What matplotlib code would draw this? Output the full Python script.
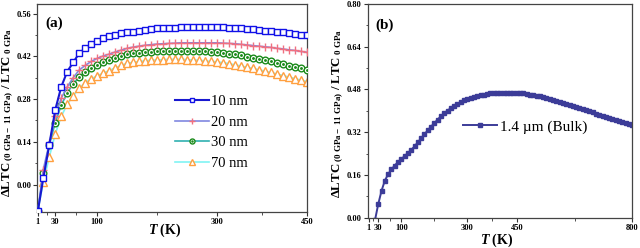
import matplotlib
matplotlib.use("Agg")
import matplotlib.pyplot as plt
import numpy as np
from matplotlib.path import Path
from matplotlib.ticker import FixedLocator

plt.rcParams['font.family'] = ['Liberation Serif', 'DejaVu Serif']
plt.rcParams['mathtext.fontset'] = 'custom'
plt.rcParams['mathtext.rm'] = 'Liberation Serif'
plt.rcParams['mathtext.it'] = 'Liberation Serif:italic:bold'
plt.rcParams['mathtext.bf'] = 'Liberation Serif:bold'

# ---------------- data ----------------
T_a = [1, 10, 20, 30, 40, 50, 60, 70, 80, 90, 100, 110, 120, 130, 140, 150, 160, 170, 180, 190,
       200, 210, 220, 230, 240, 250, 260, 270, 280, 290, 300, 310, 320, 330, 340, 350, 360, 370,
       380, 390, 400, 410, 420, 430, 440, 450]
nm10 = [-0.085, 0.02, 0.13, 0.245, 0.32, 0.37, 0.40, 0.43, 0.446, 0.46, 0.471, 0.48, 0.486, 0.49,
        0.495, 0.498, 0.50, 0.503, 0.506, 0.509, 0.511, 0.512, 0.513, 0.514, 0.515, 0.516, 0.516,
        0.516, 0.516, 0.516, 0.515, 0.515, 0.514, 0.513, 0.511, 0.509, 0.508, 0.506, 0.504, 0.502,
        0.500, 0.498, 0.496, 0.494, 0.491, 0.489]
nm20 = [-0.085, 0.049, 0.135, 0.223, 0.283, 0.32, 0.35, 0.375, 0.39, 0.403, 0.413, 0.421, 0.427,
        0.434, 0.440, 0.446, 0.450, 0.453, 0.456, 0.458, 0.460, 0.461, 0.462, 0.463, 0.464, 0.464,
        0.464, 0.464, 0.464, 0.464, 0.464, 0.463, 0.462, 0.461, 0.459, 0.457, 0.455, 0.453, 0.451,
        0.449, 0.446, 0.444, 0.441, 0.439, 0.436, 0.433]
nm30 = [-0.085, 0.038, 0.13, 0.203, 0.26, 0.30, 0.33, 0.351, 0.37, 0.381, 0.39, 0.400, 0.408,
        0.415, 0.421, 0.427, 0.430, 0.432, 0.434, 0.435, 0.436, 0.437, 0.438, 0.438, 0.438, 0.438,
        0.437, 0.437, 0.436, 0.435, 0.434, 0.432, 0.429, 0.426, 0.423, 0.419, 0.415, 0.411, 0.407,
        0.403, 0.399, 0.394, 0.389, 0.385, 0.380, 0.375]
nm70 = [-0.085, 0.008, 0.09, 0.166, 0.223, 0.263, 0.291, 0.315, 0.334, 0.346, 0.356, 0.365, 0.373,
        0.382, 0.390, 0.397, 0.400, 0.403, 0.405, 0.407, 0.408, 0.409, 0.410, 0.410, 0.410, 0.409,
        0.408, 0.407, 0.405, 0.403, 0.402, 0.399, 0.396, 0.392, 0.388, 0.384, 0.380, 0.376, 0.371,
        0.367, 0.362, 0.357, 0.352, 0.347, 0.342, 0.337]

T_b = [1, 10, 20, 30, 40, 50, 60, 70, 80, 90, 100, 110, 120, 130, 140, 150, 160, 170, 180, 190,
       200, 210, 220, 230, 240, 250, 260, 270, 280, 290, 300, 310, 320, 330, 340, 350, 360, 370,
       380, 390, 400, 410, 420, 430, 440, 450, 460, 470, 480, 490, 500, 510, 520, 530, 540, 550,
       560, 570, 580, 590, 600, 610, 620, 630, 640, 650, 660, 670, 680, 690, 700, 710, 720, 730,
       740, 750, 760, 770, 780, 790, 800]
bulk = [-0.2, -0.06, -0.01, 0.051, 0.101, 0.139, 0.163, 0.181, 0.195, 0.209, 0.219, 0.231, 0.242,
        0.254, 0.267, 0.282, 0.297, 0.312, 0.327, 0.341, 0.354, 0.367, 0.380, 0.391, 0.401, 0.410,
        0.418, 0.426, 0.433, 0.440, 0.445, 0.449, 0.453, 0.456, 0.459, 0.461, 0.463, 0.465, 0.466,
        0.467, 0.468, 0.468, 0.468, 0.468, 0.468, 0.467, 0.466, 0.465, 0.463, 0.461, 0.459, 0.457,
        0.454, 0.451, 0.448, 0.445, 0.442, 0.438, 0.434, 0.430, 0.426, 0.422, 0.418, 0.414, 0.410,
        0.406, 0.402, 0.398, 0.394, 0.390, 0.386, 0.382, 0.378, 0.374, 0.370, 0.366, 0.362, 0.358,
        0.354, 0.350, 0.346]

xticks_a = [1, 30, 100, 300, 450]
yticks_a = [0.00, 0.14, 0.28, 0.42, 0.56]
xticks_b = [1, 30, 100, 300, 450, 800]
yticks_b = [0.00, 0.16, 0.32, 0.48, 0.64, 0.80]
labels_a = ['10 nm', '20 nm', '30 nm', '70 nm']
label_b = '1.4 \u00b5m (Bulk)'

# ---------------- figure ----------------
fig = plt.figure(figsize=(6.4, 2.48), dpi=100)
axA = fig.add_axes([0.0583, 0.145, 0.421, 0.8375])
axB = fig.add_axes([0.5745, 0.122, 0.4134, 0.862])

# circle-with-dot marker
outer = Path.unit_circle()
inner = Path(Path.unit_circle().vertices * 0.22, Path.unit_circle().codes)
dotcircle = Path.make_compound_path(outer, inner)

axA.plot(T_a, nm10, color='#1818d0', lw=1.5, marker='s', ms=4.0, mfc='white',
         mec='#1010e8', mew=1.0, label=labels_a[0], zorder=5)
axA.plot(T_a, nm20, color='#8088e0', lw=1.2, marker='+', ms=5.8, mec='#f07080',
         mew=1.0, label=labels_a[1], zorder=4)
axA.plot(T_a, nm30, color='#30b0b0', lw=1.2, marker=dotcircle, ms=4.8, mfc='white',
         mec='#1a8a1a', mew=1.0, label=labels_a[2], zorder=3)
axA.plot(T_a, nm70, color='#80f4f4', lw=1.2, marker='^', ms=5.2, mfc='white',
         mec='#ffa040', mew=1.0, label=labels_a[3], zorder=2)

axB.plot(T_b, bulk, color='#3c3c98', lw=1.4, marker='s', ms=3.2, mfc='#3c3c98',
         mec='#3c3c98', label=label_b)


def mids(t):
    return [(t[i] + t[i + 1]) / 2 for i in range(len(t) - 1)]


for ax, xt, yt, xl, yl in [(axA, xticks_a, yticks_a, (0, 450), (-0.09, 0.59)),
                           (axB, xticks_b, yticks_b, (-2, 800), (0.0, 0.80))]:
    ax.set_xlim(*xl)
    ax.set_ylim(*yl)
    ax.set_xticks(xt)
    ax.set_yticks(yt)
    ax.set_xticklabels([str(v) for v in xt])
    ax.set_yticklabels(['%.2f' % v for v in yt])
    ax.xaxis.set_minor_locator(FixedLocator(mids(xt)))
    ax.yaxis.set_minor_locator(FixedLocator(mids(yt)))
    ax.tick_params(which='major', direction='out', length=3, width=0.8, pad=1.5,
                   labelsize=6, top=False, right=False, color='#333333')
    ax.tick_params(which='minor', direction='out', length=1.8, width=0.6,
                   top=False, right=False, color='#333333')
    for lab in ax.get_xticklabels() + ax.get_yticklabels():
        lab.set_fontweight('bold')
    for s in ax.spines.values():
        s.set_color('#444444')
        s.set_linewidth(0.9)

axA.text(0.031, 0.91, '(a)', transform=axA.transAxes, fontsize=11, fontweight='bold',
         va='center', ha='left')
axB.text(0.028, 0.90, '(b)', transform=axB.transAxes, fontsize=11, fontweight='bold',
         va='center', ha='left')

ylab = r'$\mathbf{\Delta LTC}_{\mathbf{\ (0\ GPa-\ 11\ GPa)}}\mathbf{\ /\ LTC}_{\mathbf{\ 0\ GPa}}$'
fig.text(8 / 640, 0.546, ylab, rotation=90, ha='center', va='center', fontsize=9.2)
fig.text(338 / 640, 0.542, ylab, rotation=90, ha='center', va='center', fontsize=9.2)

xlab = r'$\mathit{T}$ $\mathbf{(K)}$'
fig.text(165 / 640, 1 - 230 / 248, xlab, ha='center', va='center', fontsize=10)
fig.text(497 / 640, 1 - 240 / 248, xlab, ha='center', va='center', fontsize=10)

axA.legend(loc='upper left', bbox_to_anchor=(0.511, 0.565), frameon=False, fontsize=10.5,
           borderpad=0, borderaxespad=0, handlelength=2.3, handletextpad=0.2,
           labelspacing=0.52, markerscale=0.75)
axB.legend(loc='center left', bbox_to_anchor=(0.36, 0.426), frameon=False, fontsize=11,
           borderpad=0, borderaxespad=0, handlelength=2.2, handletextpad=0.25,
           markerscale=1.0)

fig.savefig('out.png', dpi=100)
